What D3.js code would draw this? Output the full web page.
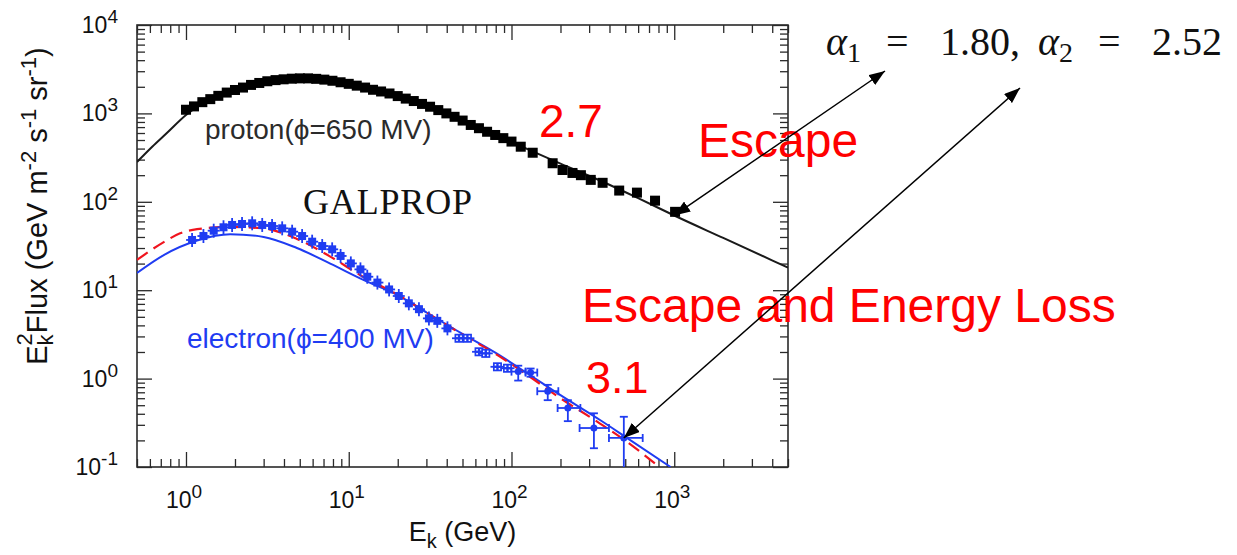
<!DOCTYPE html>
<html>
<head>
<meta charset="utf-8">
<script src="https://cdn.jsdelivr.net/npm/d3@7"></script>
<style>
  body { margin: 0; background: #fff; }
  svg { display: block; }
  text { font-family: "Liberation Sans", Arial, Helvetica, sans-serif; }
</style>
</head>
<body>
<svg id="chart" width="1237" height="555"></svg>
<script>
// ---- Proton measurements (dense low-energy band) ----
const protonDenseE = [1.0,1.12,1.26,1.41,1.58,1.78,2.0,2.24,2.51,2.82,3.16,3.55,3.98,4.47,5.01,5.62,6.31,7.08,7.94,8.91,10.0,11.2,12.6,14.1,15.8,17.8,20.0,22.4,25.1,28.2,31.6,35.5,39.8,44.7,50.1,56.2,63.1,70.8,79.4,89.1,100];
const protonDenseF = [1100,1200,1340,1450,1580,1720,1840,1960,2100,2210,2310,2380,2430,2470,2490,2490,2460,2410,2340,2250,2160,2060,1960,1850,1770,1680,1570,1470,1380,1280,1190,1090,1000,915,830,740,680,620,570,525,480];
// ---- Proton measurements (sparse high-energy points) ----
const protonHighE = [114,135,179,206,237,267,307,363,459,590,762,1012];
const protonHighF = [420,359,273,229,212,200,177,164,134,127,103,77];
// ---- Proton model (GALPROP, phi = 650 MV) ----
const protonModelE = [0.5,0.62,0.76,1.0,1.26,1.58,2.0,2.51,3.16,3.98,5.01,6.31,7.94,10,12.6,15.8,20,25.1,31.6,39.8,50.1,63.1,79.4,100,200,355,600,1000,2000,5000];
const protonModelF = [282,420,596,960,1300,1620,1900,2180,2420,2620,2700,2660,2520,2250,2000,1780,1570,1380,1190,1000,830,690,570,475,270,172,110,70,39,18];

// ---- Electron measurements ----
const electronLowE = [1.09,1.28,1.48,1.70,1.92,2.21,2.55,2.94,3.38,3.90,4.49,5.17,5.96,6.87,7.91,8.91,10.3,11.8,13.0,15.0,17.7,20.3,23.4,27.0,31.1,35.0,40.4];
const electronLowF = [37.0,41.0,47.1,51.5,54.7,56.1,57.1,54.7,53.2,50.1,45.9,41.0,35.4,31.6,29.0,24.4,20.1,17.2,14.2,12.2,10.2,8.6,7.1,6.1,4.8,4.5,3.7];
const electronMidE = [47.6,53.6,63.2,69.5,82.0,94.5];
const electronMidF = [2.86,2.86,2.01,1.93,1.36,1.31];
const electronHighE   = [110,131,167,222,321,490];
const electronHighF   = [1.2,1.17,0.72,0.465,0.276,0.213];
const electronHighElo = [100,122,144,192,262,397];
const electronHighEhi = [122,144,194,265,397,640];
const electronHighFlo = [0.95,1.05,0.57,0.33,0.163,0.09];
const electronHighFhi = [1.4,1.3,0.85,0.57,0.405,0.37];
// ---- Electron models ----
const electronSolidE = [0.5,0.73,1.17,1.87,3.0,4.8,7.7,12.4,20,30,50,80,125,200,350,517,950];
const electronSolidF = [15.7,25,36.5,43,40,30,20,13.0,8.8,5.6,3.2,1.95,1.15,0.65,0.34,0.211,0.1];
const electronDashE  = [0.5,0.73,0.92,1.17,1.87,3.0,4.8,7.7,12.4,20,30,50,80,125,200,350,517,810];
const electronDashF  = [22,35,44,49,52,50,38,24,14,8.9,5.6,3.15,1.9,1.1,0.6,0.31,0.19,0.1];

// ---- Axis ticks ----
const xMajorTicks = [1, 10, 100, 1000];
const xTickExponents = ["0", "1", "2", "3"];
const yMajorTicks = [0.1, 1, 10, 100, 1000, 10000];
const yTickExponents = ["-1", "0", "1", "2", "3", "4"];

const svg = d3.select("#chart");
const L = 137, R = 788, T = 25, B = 467;
const x = d3.scaleLog().domain([0.5, 5000]).range([L, R]);
const y = d3.scaleLog().domain([0.1, 10000]).range([B, T]);

const zip = (a, b) => a.map((v, i) => [v, b[i]]);
const minorsOf = (scale) => {
  const [a, b] = scale.domain();
  const out = [];
  for (let d = Math.pow(10, Math.floor(Math.log10(a))); d <= b; d *= 10)
    for (let m = 2; m <= 9; m++) { const v = m * d; if (v >= a * 0.999 && v <= b * 1.001) out.push(v); }
  return out;
};

svg.append("defs").append("clipPath").attr("id", "plot")
  .append("rect").attr("x", L).attr("y", T).attr("width", R - L).attr("height", B - T);

const BLUE = "#1f3cf2", RED = "#f0141e";

// ---- Axes with inward ticks on all sides ----
const axisColor = "#2a2a2a";
function drawAxis(axisGen, transform, values, size) {
  const g = svg.append("g").attr("transform", transform)
    .call(axisGen.tickValues(values).tickSize(-size).tickFormat(""));
  g.select(".domain").remove();
  g.selectAll("line").attr("stroke", axisColor).attr("stroke-width", 1.3);
}
const xMin = minorsOf(x), yMin = minorsOf(y);
drawAxis(d3.axisBottom(x), `translate(0,${B})`, xMajorTicks, 15);
drawAxis(d3.axisBottom(x), `translate(0,${B})`, xMin, 8);
drawAxis(d3.axisTop(x), `translate(0,${T})`, xMajorTicks, 15);
drawAxis(d3.axisTop(x), `translate(0,${T})`, xMin, 8);
drawAxis(d3.axisLeft(y), `translate(${L},0)`, yMajorTicks, 15);
drawAxis(d3.axisLeft(y), `translate(${L},0)`, yMin, 8);
drawAxis(d3.axisRight(y), `translate(${R},0)`, yMajorTicks, 15);
drawAxis(d3.axisRight(y), `translate(${R},0)`, yMin, 8);

svg.append("rect").attr("x", L).attr("y", T).attr("width", R - L).attr("height", B - T)
  .attr("fill", "none").attr("stroke", axisColor).attr("stroke-width", 1.6);

// ---- Tick labels (power-of-ten form) ----
xMajorTicks.forEach((v, i) => {
  const t = svg.append("text").attr("x", x(v) - 2).attr("y", B + 41)
    .attr("text-anchor", "middle").attr("font-size", 23).attr("fill", "#111");
  t.append("tspan").text("10");
  t.append("tspan").attr("font-size", 19).attr("dy", -10).text(xTickExponents[i]);
});
yMajorTicks.forEach((v, i) => {
  const t = svg.append("text").attr("x", 118).attr("y", y(v) + 8)
    .attr("text-anchor", "end").attr("font-size", 23).attr("fill", "#111");
  t.append("tspan").text("10");
  t.append("tspan").attr("font-size", 19).attr("dy", -10).text(yTickExponents[i]);
});

// ---- Axis titles ----
const xt = svg.append("text").attr("x", (L + R) / 2).attr("y", 541)
  .attr("text-anchor", "middle").attr("font-size", 27).attr("fill", "#111");
xt.append("tspan").text("E");
xt.append("tspan").attr("font-size", 20).attr("dy", 7).text("k");
xt.append("tspan").attr("dy", -7).text(" (GeV)");

const yt = svg.append("text").attr("transform", "translate(47,206) rotate(-90)")
  .attr("text-anchor", "middle").attr("font-size", 29).attr("fill", "#111");
yt.append("tspan").text("E");
yt.append("tspan").attr("font-size", 22).attr("dy", 6).text("k");
yt.append("tspan").attr("font-size", 22).attr("dx", -11).attr("dy", -21).text("2");
yt.append("tspan").attr("dy", 15).text("Flux (GeV m");
yt.append("tspan").attr("font-size", 22).attr("dy", -11).text("-2");
yt.append("tspan").attr("dy", 11).text(" s");
yt.append("tspan").attr("font-size", 22).attr("dy", -11).text("-1");
yt.append("tspan").attr("dy", 11).text(" sr");
yt.append("tspan").attr("font-size", 22).attr("dy", -11).text("-1");
yt.append("tspan").attr("dy", 11).text(")");

// ---- Curves and points ----
const plot = svg.append("g").attr("clip-path", "url(#plot)");
const line = d3.line().x(d => x(d[0])).y(d => y(d[1])).curve(d3.curveMonotoneX);

// proton
plot.append("path").datum(zip(protonModelE, protonModelF)).attr("d", line)
  .attr("fill", "none").attr("stroke", "#1a1a1a").attr("stroke-width", 2);
const sq = 10;
plot.selectAll(".pd").data(zip(protonDenseE, protonDenseF).concat(zip(protonHighE, protonHighF)))
  .join("rect").attr("x", d => x(d[0]) - sq / 2).attr("y", d => y(d[1]) - sq / 2)
  .attr("width", sq).attr("height", sq).attr("fill", "#000");

// electron models
plot.append("path").datum(zip(electronSolidE, electronSolidF)).attr("d", line)
  .attr("fill", "none").attr("stroke", BLUE).attr("stroke-width", 2);
plot.append("path").datum(zip(electronDashE, electronDashF)).attr("d", line)
  .attr("fill", "none").attr("stroke", RED).attr("stroke-width", 2.2)
  .attr("stroke-dasharray", "13,7");

// electron low-energy points: squares with short error bars
const eg = plot.append("g").attr("stroke", BLUE).attr("stroke-width", 1.8);
zip(electronLowE, electronLowF).forEach(([e, f]) => {
  const cx = x(e), cy = y(f);
  eg.append("line").attr("x1", cx - 6).attr("x2", cx + 6).attr("y1", cy).attr("y2", cy);
  eg.append("line").attr("x1", cx).attr("x2", cx).attr("y1", cy - 7).attr("y2", cy + 7);
  eg.append("rect").attr("x", cx - 4).attr("y", cy - 4).attr("width", 8).attr("height", 8)
    .attr("fill", BLUE).attr("stroke", "none");
});
// electron mid-energy points: dotted squares
zip(electronMidE, electronMidF).forEach(([e, f]) => {
  const cx = x(e), cy = y(f);
  eg.append("line").attr("x1", cx - 7).attr("x2", cx + 7).attr("y1", cy).attr("y2", cy);
  eg.append("rect").attr("x", cx - 4.5).attr("y", cy - 4.5).attr("width", 9).attr("height", 9)
    .attr("fill", BLUE).attr("stroke", "none");
  [[-2, -2], [2, -2], [-2, 2], [2, 2]].forEach(([dx, dy]) =>
    eg.append("rect").attr("x", cx + dx - 0.8).attr("y", cy + dy - 0.8)
      .attr("width", 1.6).attr("height", 1.6).attr("fill", "#fff").attr("stroke", "none"));
});
// electron high-energy points: dots with full error bars
electronHighE.forEach((e, i) => {
  const cx = x(e), cy = y(electronHighF[i]);
  const x0 = x(electronHighElo[i]), x1 = x(electronHighEhi[i]);
  const y0 = y(electronHighFlo[i]), y1 = y(electronHighFhi[i]);
  eg.append("line").attr("x1", x0).attr("x2", x1).attr("y1", cy).attr("y2", cy);
  eg.append("line").attr("x1", cx).attr("x2", cx).attr("y1", y0).attr("y2", y1);
  [x0, x1].forEach(xx => eg.append("line").attr("x1", xx).attr("x2", xx).attr("y1", cy - 4).attr("y2", cy + 4));
  [y0, y1].forEach(yy => eg.append("line").attr("x1", cx - 4).attr("x2", cx + 4).attr("y1", yy).attr("y2", yy));
  eg.append("circle").attr("cx", cx).attr("cy", cy).attr("r", 3.5).attr("fill", BLUE).attr("stroke", "none");
});

// ---- In-plot labels ----
svg.append("text").attr("x", 205).attr("y", 139).attr("font-size", 28).attr("fill", "#2b2b2b")
  .text("proton(\u03d5=650 MV)");
svg.append("text").attr("x", 187).attr("y", 348).attr("font-size", 28).attr("fill", BLUE)
  .text("electron(\u03d5=400 MV)");
svg.append("text").attr("x", 303).attr("y", 214).attr("font-size", 36)
  .attr("textLength", 169).attr("lengthAdjust", "spacing")
  .style("font-family", "'Liberation Serif','Times New Roman',serif").attr("fill", "#111")
  .text("GALPROP");

// ---- Annotations ----
const red = "#ff0000";
svg.append("text").attr("x", 539).attr("y", 137).attr("font-size", 46).attr("fill", red).text("2.7");
svg.append("text").attr("x", 698).attr("y", 157).attr("font-size", 48).attr("fill", red).text("Escape");
svg.append("text").attr("x", 582).attr("y", 322).attr("font-size", 48).attr("fill", red).text("Escape and Energy Loss");
svg.append("text").attr("x", 586).attr("y", 393).attr("font-size", 45).attr("fill", red).text("3.1");

const eq = svg.append("text").attr("y", 55).attr("font-size", 40).attr("fill", "#111")
  .style("font-family", "'Liberation Serif','Times New Roman',serif");
eq.append("tspan").attr("x", 826).attr("font-style", "italic").text("\u03b1");
eq.append("tspan").attr("font-size", 28).attr("dy", 7).text("1");
eq.append("tspan").attr("x", 886).attr("dy", -7).text("=");
eq.append("tspan").attr("x", 940).text("1.80,");
eq.append("tspan").attr("x", 1038).attr("font-style", "italic").text("\u03b1");
eq.append("tspan").attr("font-size", 28).attr("dy", 7).text("2");
eq.append("tspan").attr("x", 1098).attr("dy", -7).text("=");
eq.append("tspan").attr("x", 1152).text("2.52");

// double-headed arrows linking spectra to the fitted indices
const defs = svg.select("defs");
defs.append("marker").attr("id", "head").attr("viewBox", "0 0 16 12")
  .attr("refX", 16).attr("refY", 6).attr("markerWidth", 16).attr("markerHeight", 12)
  .attr("markerUnits", "userSpaceOnUse").attr("orient", "auto-start-reverse")
  .append("path").attr("d", "M0,0 L16,6 L0,12 Z").attr("fill", "#000");
const arrows = [
  [[x(1000), y(70)], [885, 71]],
  [[x(490), y(0.213)], [1020, 88]]
];
arrows.forEach(([a, b]) => {
  svg.append("line").attr("x1", a[0]).attr("y1", a[1]).attr("x2", b[0]).attr("y2", b[1])
    .attr("stroke", "#000").attr("stroke-width", 1.5)
    .attr("marker-start", "url(#head)").attr("marker-end", "url(#head)");
});
</script>
</body>
</html>
